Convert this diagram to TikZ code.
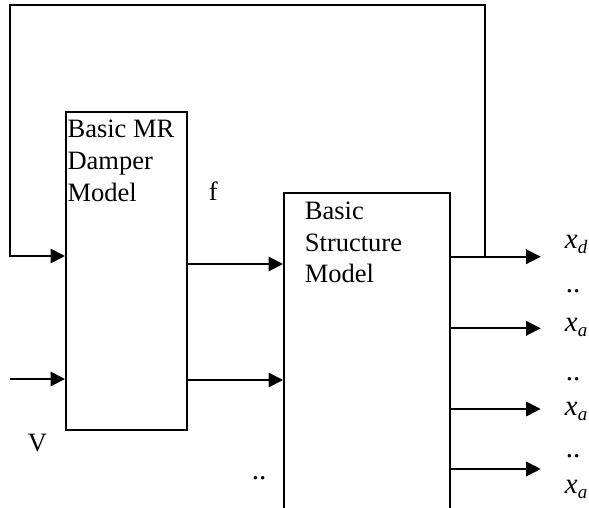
\documentclass[tikz,border=0pt]{standalone}
\usepackage{fontspec}
\setmainfont{Liberation Serif}
\usetikzlibrary{arrows.meta}
\begin{document}
\begin{tikzpicture}[x=1pt,y=-1pt,line width=1.8pt,
  box/.style={draw,line width=1.8pt,inner sep=0pt,anchor=north west},
  lbl/.style={anchor=base west,inner sep=0pt,font=\fontsize{26.5}{31.5}\selectfont},
  sym/.style={anchor=base west,inner sep=0pt,font=\fontsize{29}{32}\selectfont\itshape},
  dots/.style={anchor=base west,inner sep=0pt,font=\fontsize{29}{32}\selectfont},
  arr/.style={-{Triangle[length=14.5pt,width=14.5pt]}}]
\useasboundingbox (0,0) rectangle (589,508);
\clip (0,0) rectangle (589,508);
% boxes
\node[box,minimum width=121pt,minimum height=318pt] (damper) at (65,111) {};
\node[box,minimum width=166pt,minimum height=330pt] (struct) at (283,192) {};
% coordinates
\coordinate (in1) at (10,256);
\coordinate (in2) at (10,379);
\coordinate (fbL) at (10,5);
\coordinate (fbR) at (485,256.7);
\coordinate (m1) at (0,264);
\coordinate (m2) at (0,380);
\coordinate (o1) at (540.7,256.7);
\coordinate (o2) at (540.7,328.3);
\coordinate (o3) at (540.7,409);
\coordinate (o4) at (540.7,469);
% feedback loop
\draw[arr] (fbR) |- (fbL) |- (in1 -| damper.west);
\draw[arr] (in2) -- (in2 -| damper.west);
% damper to structure
\draw[arr] (damper.east |- m1) -- (struct.west |- m1);
\draw[arr] (damper.east |- m2) -- (struct.west |- m2);
% outputs
\draw[arr] (struct.east |- o1) -- (o1);
\draw[arr] (struct.east |- o2) -- (o2);
\draw[arr] (struct.east |- o3) -- (o3);
\draw[arr] (struct.east |- o4) -- (o4);
% texts
\node[lbl] (d1) at (66.7,138) {Basic MR};
\node[lbl] (d2) at (66.7,170) {Damper};
\node[lbl] (d3) at (66.7,201) {Model};
\node[lbl] (s1) at (304,219) {Basic};
\node[lbl] (s2) at (304,251) {Structure};
\node[lbl] (s3) at (304,282) {Model};
\node[lbl] (f) at (208,200.7) {f};
\node[lbl,anchor=base] (v) at (37.5,451.7) {V};
\node[dots] (dd0) at (251,479.5) {..};
\node[sym] (xd) at (564,248) {x\raisebox{-5pt}{\fontsize{19}{20}\selectfont d}};
\node[dots] (dd1) at (565,292) {..};
\node[sym] (xa1) at (564,331.7) {x\raisebox{-5pt}{\fontsize{19}{20}\selectfont a}};
\node[dots] (dd2) at (565,380.5) {..};
\node[sym] (xa2) at (564,415) {x\raisebox{-5pt}{\fontsize{19}{20}\selectfont a}};
\node[dots] (dd3) at (565,457.5) {..};
\node[sym] (xa3) at (564,493) {x\raisebox{-5pt}{\fontsize{19}{20}\selectfont a}};
\end{tikzpicture}
\end{document}
